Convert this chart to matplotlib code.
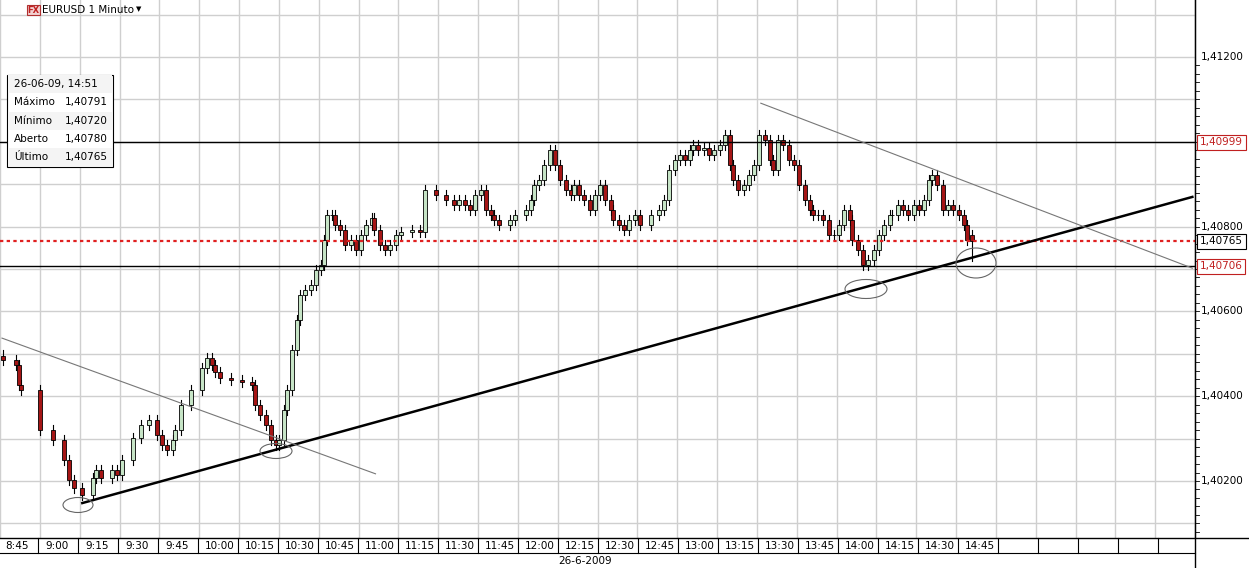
import matplotlib
matplotlib.use("Agg")
import matplotlib.pyplot as plt
from matplotlib.patches import Rectangle, Ellipse

# minutes after 08:45 and closes (1e-5 offsets from 1.40000)
minutes = [1,6,7,8,15,20,24,26,28,31,35,36,38,42,44,46,50,53,56,59,61,63,65,66,68,72,76,78,80,81,83,87,91,95,96,98,100,102,104,105,107,108,110,112,113,115,117,119,121,122,123,125,126,128,130,132,134,136,138,140,141,143,145,147,149,151,155,158,160,164,168,171,173,175,177,179,181,183,185,186,188,192,194,198,200,201,203,205,207,209,211,213,215,216,218,220,222,224,226,228,230,231,233,235,237,239,241,245,248,250,252,254,256,258,260,261,263,265,267,269,271,273,275,276,278,280,282,284,286,288,290,291,293,295,297,299,301,303,305,306,308,310,312,314,316,318,320,321,323,325,327,329,331,333,335,336,338,340,342,344,346,348,350,351,353,355,357,359,361,363,364,366]
closes = [486,474,427,415,320,297,250,202,184,167,207,226,207,226,214,250,302,332,344,309,285,273,297,320,379,415,467,490,474,457,443,438,433,427,379,356,332,297,285,297,368,415,509,580,639,651,662,698,710,768,827,827,804,792,757,768,745,780,804,820,792,757,745,757,780,787,792,787,886,875,863,851,863,851,839,875,886,839,827,816,804,816,827,839,863,898,910,945,981,945,910,886,875,898,875,863,839,875,898,863,839,816,804,792,816,827,804,827,839,863,934,957,969,957,981,992,981,985,969,981,992,1016,945,910,886,898,922,945,1016,1004,957,934,1004,992,957,945,898,863,839,827,827,816,780,780,804,839,816,768,745,710,721,745,780,804,827,827,851,839,827,851,839,863,910,922,898,839,851,839,827,804,768,765]
last_open, last_high, last_low, last_close = 780, 791, 720, 765
wick = 12

resistance = 1.40999
support = 1.40706
last_price = 1.40765
y_ticks = [1.402, 1.404, 1.406, 1.408, 1.412]
time_labels = ["8:45","9:00","9:15","9:30","9:45","10:00","10:15","10:30","10:45","11:00","11:15","11:30","11:45","12:00","12:15","12:30","12:45","13:00","13:15","13:30","13:45","14:00","14:15","14:30","14:45"]
trend_up = [(31, 1.40148), (449, 1.40870)]
trend_dn1 = [(0.75, 1.40537), (141.4, 1.40217)]
trend_dn2 = [(286.5, 1.41091), (449, 1.40702)]

W, H = 1249, 568
fig = plt.figure(figsize=(W/100, H/100), dpi=100)
fig.patch.set_facecolor("white")
ax = fig.add_axes([0, 30/H, 1195/W, 538/H])
ax.set_xlim(0.75, 448.9)
ax.set_ylim(1.400656, 1.413344)
ax.set_xticks([15*i for i in range(31)])
ax.set_yticks([1.400 + 0.001*i for i in range(1, 14)])
ax.grid(True, color="#cfcfcf", lw=1)
ax.tick_params(left=False, bottom=False, labelleft=False, labelbottom=False)
for s in ["top", "left", "bottom"]:
    ax.spines[s].set_visible(False)
ax.spines["right"].set_color("black")
ax.set_axisbelow(True)

opens = [closes[0] + 10] + closes[:-1]
for i, (m, o, c) in enumerate(zip(minutes, opens, closes)):
    if i == len(minutes) - 1:
        o, c, hi, lo = last_open, last_close, last_high, last_low
    else:
        hi, lo = max(o, c) + wick, min(o, c) - wick
    O, C, Hh, L = [1.4 + v*1e-5 for v in (o, c, hi, lo)]
    ax.plot([m, m], [L, Hh], color="black", lw=0.8, zorder=3)
    col = "#c6e4c6" if c >= o else "#a51515"
    ax.add_patch(Rectangle((m-0.75, min(O, C)), 1.5, max(abs(C-O), 2e-6),
                           facecolor=col, edgecolor="black", lw=0.6, zorder=4))

ax.axhline(resistance, color="black", lw=1, zorder=5)
ax.axhline(support, color="black", lw=1, zorder=5)
ax.axhline(last_price, color="#e02020", lw=1.6, ls=(0, (1.5, 1.5)), zorder=5)
ax.plot(*zip(*trend_up), color="black", lw=1.8, zorder=6)
ax.plot(*zip(*trend_dn1), color="#777777", lw=0.8, zorder=6)
ax.plot(*zip(*trend_dn2), color="#777777", lw=0.8, zorder=6)

ov = fig.add_axes([0, 0, 1, 1], facecolor="none")
ov.set_xlim(0, W); ov.set_ylim(H, 0); ov.axis("off")
for (cx, cy, w, h) in [(78, 505, 30, 15), (276, 451, 32, 15), (866, 289, 42, 19), (976, 263, 40, 30)]:
    ov.add_patch(Ellipse((cx, cy), w, h, fill=False, edgecolor="#666666", lw=0.8, zorder=7))

def py(p):
    return 57 + (1.412 - p) * 42400

for p in y_ticks:
    ov.text(1201, py(p), f"{p:.5f}".replace(".", ","), fontsize=7.5, va="center", ha="left")
for k in range(-3, 60):
    yy = py(1.4 + 0.0002*k)
    if 0 < yy < 538:
        ov.plot([1195, 1199], [yy, yy], color="black", lw=0.6)
for p, tc, ec in [(resistance, "#c02020", "#c02020"), (last_price, "black", "black"), (support, "#c02020", "#c02020")]:
    ov.text(1200, py(p), f"{p:.5f}".replace(".", ","), fontsize=7.5, va="center", ha="left", color=tc,
            bbox=dict(boxstyle="square,pad=0.25", facecolor="white", edgecolor=ec, lw=0.8))

ov.plot([0, W], [538, 538], color="black", lw=1)
ov.plot([0, 1195], [553, 553], color="black", lw=0.8)
ov.plot([1195, 1195], [0, H], color="black", lw=1)
for i in range(30):
    xx = -2 + 40*i
    if xx > 0:
        ov.plot([xx, xx], [538, 553], color="black", lw=0.8)
for i, lab in enumerate(time_labels):
    ov.text(-2 + 40*i + 7, 546, lab, fontsize=7.5, va="center", ha="left")
ov.text(585, 561, "26-6-2009", fontsize=7.5, va="center", ha="center")

ov.add_patch(Rectangle((27, 5), 13, 10, facecolor="#f2d0d0", edgecolor="#b03030", lw=0.8))
ov.text(33.5, 10.5, "FX", fontsize=6, color="#c02020", ha="center", va="center", weight="bold")
ov.text(42, 10, "EURUSD 1 Minuto", fontsize=7.5, va="center", ha="left")
ov.text(139, 9, "▼", fontsize=5, va="center", ha="center")

ov.add_patch(Rectangle((7, 75), 106, 92, facecolor="white", edgecolor="black", lw=0.8, zorder=8))
rows = [("26-06-09, 14:51", ""), ("Máximo", "1,40791"), ("Mínimo", "1,40720"), ("Aberto", "1,40780"), ("Último", "1,40765")]
for j, (a, b) in enumerate(rows):
    yy = 84 + 18.3*j
    if j % 2 == 0:
        ov.add_patch(Rectangle((8, yy-9), 104, 18, facecolor="#f4f4f4", edgecolor="none", zorder=8))
    ov.text(14, yy, a, fontsize=7.5, va="center", ha="left", zorder=9)
    ov.text(65, yy, b, fontsize=7.5, va="center", ha="left", zorder=9)

fig.savefig("out.png", dpi=100)
